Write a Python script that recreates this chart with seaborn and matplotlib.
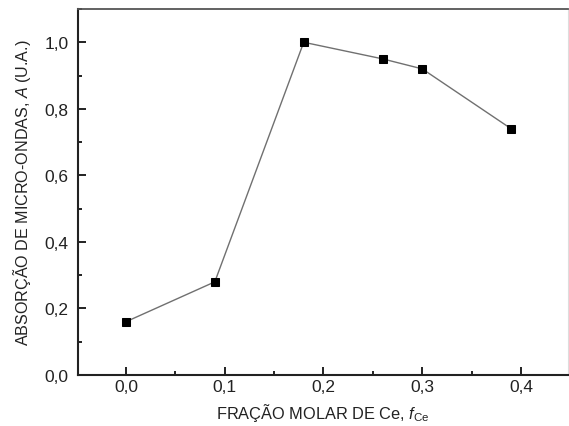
import matplotlib
matplotlib.use("Agg")
import matplotlib.pyplot as plt
import seaborn as sns
import pandas as pd
from matplotlib.ticker import MultipleLocator, FuncFormatter

fracao_ce = [0.0, 0.09, 0.18, 0.26, 0.30, 0.39]
absorcao = [0.16, 0.28, 1.00, 0.95, 0.92, 0.74]

sns.set_theme(style="ticks")
plt.rcParams['font.family'] = ['Liberation Sans', 'DejaVu Sans']
plt.rcParams['mathtext.fontset'] = 'custom'
plt.rcParams['mathtext.rm'] = 'Liberation Sans'
plt.rcParams['mathtext.it'] = 'Liberation Sans:italic'

df = pd.DataFrame({"x": fracao_ce, "y": absorcao})

fig = plt.figure(figsize=(5.69, 4.27), dpi=100)
ax = fig.add_axes([78/569, 51/427, (567.5-78)/569, (376-10)/427])

sns.lineplot(data=df, x="x", y="y", ax=ax, color="#707070", linewidth=1.0,
             marker="s", markersize=6.2, markerfacecolor="black",
             markeredgecolor="black", sort=False)

ax.set_xlim(-0.0485, 0.447)
ax.set_ylim(0.0, 1.1)
ax.xaxis.set_major_locator(MultipleLocator(0.1))
ax.xaxis.set_minor_locator(MultipleLocator(0.05))
ax.yaxis.set_major_locator(MultipleLocator(0.2))
ax.yaxis.set_minor_locator(MultipleLocator(0.1))
fmt = FuncFormatter(lambda v, p: f"{v:.1f}".replace(".", ",").replace("-0,0", "0,0"))
ax.xaxis.set_major_formatter(fmt)
ax.yaxis.set_major_formatter(fmt)

ax.tick_params(which="both", direction="in", colors="#222222", width=1.4,
               top=False, right=False)
ax.tick_params(which="major", length=6, labelsize=12.5)
ax.tick_params(axis="x", which="major", pad=3)
ax.tick_params(axis="y", which="major", pad=7)
ax.tick_params(which="minor", length=3)

for s in ["left", "bottom"]:
    ax.spines[s].set_color("#222222")
    ax.spines[s].set_linewidth(1.5)
ax.spines["top"].set_color("#555555")
ax.spines["top"].set_linewidth(1.3)
ax.spines["right"].set_color("#dddddd")
ax.spines["right"].set_linewidth(0.8)

ax.set_xlabel(r"FRAÇÃO MOLAR DE Ce, $\mathit{f}_{\mathrm{Ce}}$", fontsize=11.8,
              color="#222222", labelpad=5)
ax.set_ylabel(r"ABSORÇÃO DE MICRO-ONDAS, $\mathit{A}$ (U.A.)", fontsize=11.6,
              color="#222222", labelpad=8)

fig.savefig("out.png", dpi=100)
